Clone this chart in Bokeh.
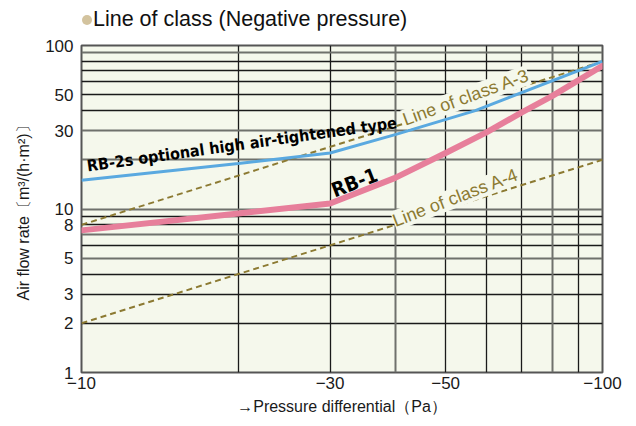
from bokeh.plotting import figure
from bokeh.models import (FixedTicker, CustomJSTickFormatter, Grid, Label, Range1d, Div)
from bokeh.layouts import column
from bokeh.embed import file_html
from bokeh.resources import INLINE
import math

# ---- data (pressure magnitudes in Pa, shown as negative) ----
pressure_rb2s = [10, 20, 30, 40, 57, 100]
flow_rb2s = [15, 19, 22, 28.5, 40, 80]

pressure_rb1 = [10, 20, 30, 40, 50, 60, 70, 80, 100]
flow_rb1 = [7.4, 9.4, 10.8, 15.5, 22, 29.5, 39, 49, 75]

pressure_a3 = [10, 100]
flow_a3 = [8, 80]

pressure_a4 = [10, 100]
flow_a4 = [2, 20]

x_ticks = [10, 30, 50, 100]
y_ticks = [1, 2, 3, 5, 8, 10, 30, 50, 100]
x_grid_dark = [20, 30, 50, 60, 70, 90]
x_grid_grey = [40, 80]
y_grid_dark = [2, 3, 4, 6, 8, 9, 40, 50, 60, 70, 80]
y_grid_grey = [5, 7, 10, 20, 30, 90]

BG = "#f5f8ec"
OLIVE = "#8c7a32"
FONT = "Liberation Sans"

p = figure(x_axis_type="log", y_axis_type="log",
           x_range=Range1d(10, 100), y_range=Range1d(1, 100),
           frame_width=521, frame_height=327,
           min_border_left=81, min_border_right=26,
           min_border_top=15, min_border_bottom=50,
           output_backend="svg", toolbar_location=None)

p.background_fill_color = BG
p.border_fill_color = "white"
p.outline_line_color = "#555555"
p.outline_line_width = 2

# grids
p.xgrid.ticker = FixedTicker(ticks=x_grid_dark)
p.xgrid.grid_line_color = "#1a1a1a"
p.xgrid.grid_line_width = 1.3
p.ygrid.ticker = FixedTicker(ticks=y_grid_dark)
p.ygrid.grid_line_color = "#1a1a1a"
p.ygrid.grid_line_width = 1.3
p.add_layout(Grid(dimension=0, ticker=FixedTicker(ticks=x_grid_grey),
                  grid_line_color="#6f716c", grid_line_width=2))
p.add_layout(Grid(dimension=1, ticker=FixedTicker(ticks=y_grid_grey),
                  grid_line_color="#6f716c", grid_line_width=2))

# axes
for ax in (p.xaxis[0], p.yaxis[0]):
    ax.axis_line_color = None
    ax.major_tick_line_color = None
    ax.minor_tick_line_color = None
    ax.major_tick_out = 0
    ax.major_tick_in = 0
    ax.major_label_text_font = FONT
    ax.major_label_text_font_size = "17px"
    ax.major_label_text_color = "#1a1a1a"
    ax.axis_label_text_font = FONT
    ax.axis_label_text_font_size = "16px"
    ax.axis_label_text_font_style = "normal"
    ax.axis_label_text_color = "#1a1a1a"

p.xaxis.ticker = FixedTicker(ticks=x_ticks, minor_ticks=[])
p.xaxis.formatter = CustomJSTickFormatter(code="return '\u2212' + tick.toString();")
p.xaxis.major_label_standoff = 4
p.xaxis.axis_label = "\u2192Pressure differential\uff08Pa\uff09"
p.xaxis.axis_label_standoff = 6

p.yaxis.ticker = FixedTicker(ticks=y_ticks, minor_ticks=[])
p.yaxis.formatter = CustomJSTickFormatter(code="return tick.toString();")
p.yaxis.major_label_standoff = 8
p.yaxis.axis_label = "Air flow rate\u3014m\u00b3/(h\u00b7m\u00b2)\u3015"
p.yaxis.axis_label_standoff = 10

# class lines
p.line(pressure_a3, flow_a3, line_color=OLIVE, line_width=2, line_dash="6 4")
p.line(pressure_a4, flow_a4, line_color=OLIVE, line_width=2, line_dash="6 4")

# series
p.line(pressure_rb2s, flow_rb2s, line_color="#5aa9e0", line_width=3)
p.line(pressure_rb1, flow_rb1, line_color="#e77f9b", line_width=6,
       line_join="round", line_cap="round")

# annotations
p.add_layout(Label(x=41.5, y=35, text="Line of class A-3", angle=math.radians(20),
                   text_font=FONT, text_font_size="18px", text_color=OLIVE,
                   text_baseline="alphabetic",
                   background_fill_color=BG))
p.add_layout(Label(x=39.7, y=8.4, text="Line of class A-4", angle=math.radians(21),
                   text_font=FONT, text_font_size="18px", text_color=OLIVE,
                   text_baseline="alphabetic",
                   background_fill_color=BG))
p.add_layout(Label(x=10.25, y=18.3, text="RB-2s optional high air-tightened type",
                   angle=math.radians(8), text_font="DejaVu Sans Condensed",
                   text_font_style="bold", text_font_size="16px", text_color="black",
                   text_baseline="alphabetic"))
p.add_layout(Label(x=30.3, y=12.9, text="RB-1", angle=math.radians(21),
                   text_font="DejaVu Sans Condensed", text_font_style="bold",
                   text_font_size="20px", text_color="black",
                   text_baseline="alphabetic"))

# heading
heading = Div(
    text=('<div style="font-family:\'Liberation Sans\',sans-serif;font-size:21.5px;'
          'line-height:24px;padding:7px 0 0 82px;color:#111;white-space:nowrap">'
          '<span style="display:inline-block;width:10px;height:10px;border-radius:50%;'
          'background:#d3c39e;margin-right:1px;vertical-align:1px"></span>'
          'Line of class (Negative pressure)</div>'),
    width=628, height=30, margin=(0, 0, 0, 0))

layout = column(heading, p, spacing=0)

open("out.html", "w").write(file_html(layout, INLINE))
